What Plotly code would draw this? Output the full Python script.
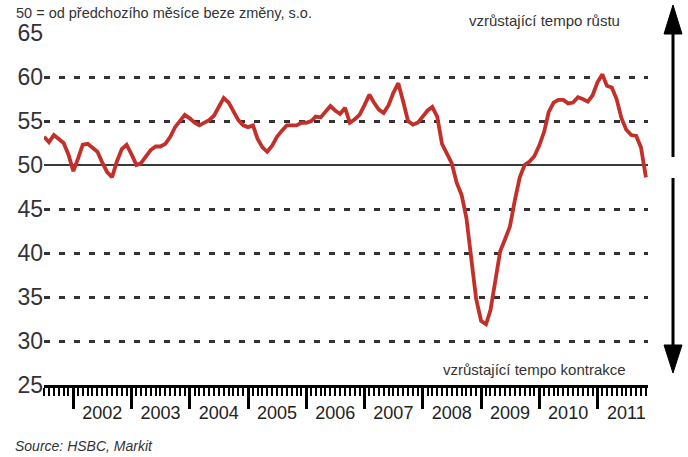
import pandas as pd
import plotly.graph_objects as go

# ---- data ----
start_month = "2001-07-01"
pmi_values = [
    53.2, 52.6, 53.4, 53.0, 52.5, 51.2,                                   # 2001 H2
    49.3, 50.8, 52.3, 52.4, 52.0, 51.5, 50.3, 49.2, 48.6, 50.4, 51.8, 52.3,  # 2002
    51.2, 50.0, 50.2, 51.0, 51.7, 52.1, 52.1, 52.4, 53.2, 54.3, 55.0, 55.7,  # 2003
    55.3, 54.8, 54.5, 54.8, 55.1, 55.6, 56.5, 57.6, 57.1, 56.2, 55.1, 54.5,  # 2004
    54.3, 54.5, 53.0, 52.0, 51.5, 52.2, 53.2, 53.9, 54.5, 54.5, 54.5, 54.8,  # 2005
    54.8, 55.0, 55.5, 55.4, 56.0, 56.7, 56.2, 55.8, 56.5, 54.8, 55.2, 55.7,  # 2006
    56.8, 58.0, 57.1, 56.3, 55.9, 56.8, 58.2, 59.3, 57.2, 55.0, 54.6, 54.8,  # 2007
    55.5, 56.2, 56.6, 55.5, 52.4, 51.2, 50.2, 48.0, 46.6, 44.0, 39.7, 34.8,  # 2008
    32.3, 31.9, 33.5, 37.2, 40.2, 41.6, 43.0, 46.0, 48.6, 50.0, 50.4, 51.0,  # 2009
    52.2, 53.8, 56.0, 57.1, 57.4, 57.4, 57.0, 57.1, 57.7, 57.5, 57.2, 57.9,  # 2010
    59.4, 60.3, 59.0, 58.8, 57.5, 55.3, 54.0, 53.4, 53.3, 52.0, 48.6,        # 2011
]
years = [str(y) for y in range(2002, 2012)]
y_ticks = [25, 30, 35, 40, 45, 50, 55, 60, 65]
y_grid = [30, 35, 40, 45, 55, 60, 65]

dates = pd.date_range(start_month, periods=len(pmi_values), freq="MS")
year_starts = [f"{y}-01-01" for y in years]
year_mids = [f"{y}-07-01" for y in years]

FONT = "Liberation Sans, Arial, sans-serif"
W, H = 688, 457
L, R, T, B = 44, 40, 33, 72
PW, PH = W - L - R, H - T - B


def px_x(p):
    return (p - L) / PW


def px_y(p):
    return (H - B - p) / PH


x_range = ["2001-07-01", "2011-11-14"]

fig = go.Figure()
fig.add_trace(go.Scatter(
    x=dates, y=pmi_values, mode="lines",
    line=dict(color="#c3302a", width=3.8),
    hoverinfo="x+y", showlegend=False,
))
# invisible helper trace for the year-label axis
fig.add_trace(go.Scatter(x=[dates[0]], y=[None], xaxis="x2", yaxis="y",
                         mode="lines", showlegend=False, hoverinfo="skip"))

fig.update_layout(
    width=W, height=H,
    margin=dict(l=L, r=R, t=T, b=B),
    paper_bgcolor="white", plot_bgcolor="white",
    font=dict(family=FONT, color="#222"),
    xaxis=dict(
        type="date", range=x_range,
        tickmode="array", tickvals=year_starts, showticklabels=False,
        ticks="outside", ticklen=21, tickwidth=2.5, tickcolor="black",
        showline=True, linecolor="black", linewidth=3,
        showgrid=False, zeroline=False,
        minor=dict(ticks="outside", ticklen=8, tickwidth=1.6, tickcolor="black",
                   dtick="M1", tick0="2001-07-01", showgrid=False),
    ),
    xaxis2=dict(
        type="date", range=x_range, overlaying="x", anchor="y", side="bottom",
        tickmode="array", tickvals=year_mids, ticktext=years,
        ticks="", showline=False, showgrid=False, zeroline=False,
        tickfont=dict(size=18, color="#222", family=FONT),
        ticklabelstandoff=15,
    ),
    yaxis=dict(
        range=[25, 65], tickmode="array", tickvals=y_ticks,
        ticks="", showgrid=False, zeroline=False, showline=False,
        tickfont=dict(size=23, color="#333", family=FONT),
        minor=dict(tickmode="array", tickvals=y_grid, showgrid=True,
                   gridcolor="#333", gridwidth=3, griddash="6px,9px", ticks=""),
    ),
)

shapes = [
    # solid reference line at 50
    dict(type="line", xref="paper", yref="y", x0=0, x1=1, y0=50, y1=50,
         line=dict(color="#3a3a3a", width=2), layer="below"),
    # up arrow
    dict(type="line", xref="paper", yref="paper", x0=px_x(673), x1=px_x(673),
         y0=px_y(157), y1=px_y(30), line=dict(color="black", width=3)),
    dict(type="path", xref="paper", yref="paper",
         path=f"M {px_x(664)},{px_y(34)} L {px_x(682)},{px_y(34)} L {px_x(673)},{px_y(5)} Z",
         fillcolor="black", line=dict(color="black", width=1)),
    # down arrow
    dict(type="line", xref="paper", yref="paper", x0=px_x(673), x1=px_x(673),
         y0=px_y(178), y1=px_y(348), line=dict(color="black", width=3)),
    dict(type="path", xref="paper", yref="paper",
         path=f"M {px_x(664)},{px_y(345)} L {px_x(682)},{px_y(345)} L {px_x(673)},{px_y(373)} Z",
         fillcolor="black", line=dict(color="black", width=1)),
]
fig.update_layout(shapes=shapes)

annotations = [
    dict(text="50 = od předchozího měsíce beze změny, s.o.", x=px_x(14), y=px_y(13),
         xanchor="left", yanchor="middle", font=dict(size=14.5, color="#333")),
    dict(text="vzrůstající tempo růstu", x=px_x(622), y=px_y(20),
         xanchor="right", yanchor="middle", font=dict(size=15, color="#333")),
    dict(text="vzrůstající tempo kontrakce", x=px_x(628), y=px_y(369),
         xanchor="right", yanchor="middle", font=dict(size=15, color="#333")),
    dict(text="<i>Source: HSBC, Markit</i>", x=px_x(13), y=px_y(446),
         xanchor="left", yanchor="middle", font=dict(size=14, color="#333")),
]
for a in annotations:
    a.update(xref="paper", yref="paper", showarrow=False)
fig.update_layout(annotations=annotations)

fig.write_html("out.html")
